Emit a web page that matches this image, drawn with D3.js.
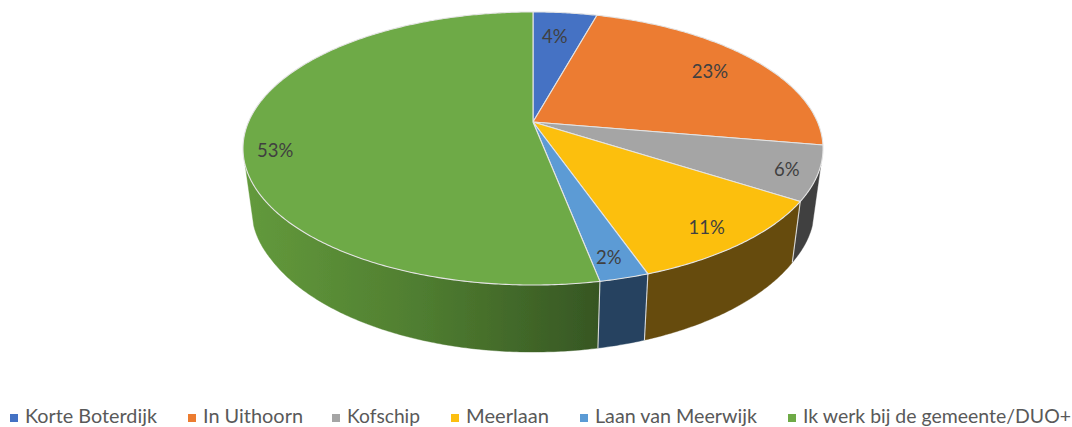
<!DOCTYPE html>
<html><head><meta charset="utf-8">
<script src="https://cdn.jsdelivr.net/npm/d3@7/dist/d3.min.js"></script>
<style>html,body{margin:0;padding:0;background:#fff;overflow:hidden}svg{display:block}</style>
</head><body><svg id="c" width="1072" height="427"></svg>
<script>
const categories=["Korte Boterdijk","In Uithoorn","Kofschip","Meerlaan","Laan van Meerwijk","Ik werk bij de gemeente/DUO+"];
const values=[4.3,23.4,6.4,10.55,2.3,53.05];
const colors=["#4472c4","#ec7c30","#a5a5a5","#fcbf11","#5b9bd5","#6eaa46"];
const sideColors=["#294679","#8e4b1e","#3f3f3f","#664c10","#254360","#4f7a32"];
const labelFactor=[.75,.79,.9,.873,.885,.894];
const labelTurn=[-1,0.7,1,1,0.6,-8];

const W=1072,H=427,cx=533,apexY=122,R=284.5,p=.194,a=131.4;
const svg=d3.select("#c");
const defs=svg.append("defs");
const gr=defs.append("linearGradient").attr("id","gGreen").attr("gradientUnits","userSpaceOnUse")
  .attr("x1",245).attr("x2",600).attr("y1",0).attr("y2",0);
gr.append("stop").attr("offset",0).attr("stop-color","#639a3c");
gr.append("stop").attr("offset",.5).attr("stop-color","#4f7d30");
gr.append("stop").attr("offset",1).attr("stop-color","#365623");
const f=defs.append("filter").attr("id","soft").attr("x","-2%").attr("y","-2%").attr("width","104%").attr("height","104%");
f.append("feGaussianBlur").attr("stdDeviation",.45);

// perspective projection of the unit disc, angle clockwise from the top
const topPt=(t,r=1)=>{const u=r*Math.sin(t),v=-r*Math.cos(t),w=1-p*v;return [cx+R*u/w,apexY+a*v/w];};
const botPt=(t)=>{const q=topPt(t),Y=q[1]-apexY;return [cx+(q[0]-cx)*.97,q[1]+Math.max(61,55.6+.07*Y)];};
const line=d3.line();
const pie=d3.pie().sort(null).value(d=>d)(values);
const arcSamples=(s,e)=>{const n=Math.max(2,Math.ceil((e-s)/.01));return d3.range(n+1).map(i=>s+(e-s)*i/n);};

const g=svg.append("g").attr("filter","url(#soft)");
// side wall: only the front part of the rim, between its two visible ends
const frontS=Math.PI*.6,frontE=Math.PI*1.4;
pie.forEach((d,i)=>{
  const s=Math.max(d.startAngle,frontS),e=Math.min(d.endAngle,frontE);
  if(e<=s)return;
  const ts=arcSamples(s,e);
  const pts=ts.map(t=>topPt(t)).concat(ts.slice().reverse().map(t=>botPt(t)));
  g.append("path").attr("d",line(pts)+"Z")
    .attr("fill",i===5?"url(#gGreen)":sideColors[i])
    .attr("stroke",i===5?"url(#gGreen)":sideColors[i]).attr("stroke-width",.4);
});
// separators on the wall, at the slice boundaries that face the viewer
pie.forEach(d=>{
  if(d.endAngle<=frontS||d.endAngle>=frontE)return;
  g.append("path").attr("d",line([topPt(d.endAngle),botPt(d.endAngle)]))
    .attr("stroke","#d9d9d9").attr("stroke-width",1.1).attr("fill","none");
});
// top faces
pie.forEach((d,i)=>{
  const ts=arcSamples(d.startAngle,d.endAngle);
  const pts=[[cx,apexY]].concat(ts.map(t=>topPt(t)));
  g.append("path").attr("d",line(pts)+"Z").attr("fill",colors[i])
    .attr("stroke","#e4e4e4").attr("stroke-width",1.1).attr("stroke-linejoin","round");
});
// data labels
pie.forEach((d,i)=>{
  const mid=(d.startAngle+d.endAngle)/2+labelTurn[i]*Math.PI/180;
  const q=topPt(mid,labelFactor[i]);
  svg.append("text").attr("x",q[0]).attr("y",q[1]+6.5).attr("text-anchor","middle")
    .attr("font-family","Lato, 'Open Sans', sans-serif").attr("font-size",18.5)
    .attr("fill","#404040").text(Math.round(d.value)+"%");
});
// legend
const legendX=d3.scaleOrdinal().domain(categories).range([10,188,332,451,580,788]);
const legendW=d3.scaleOrdinal().domain(categories).range([132,100,73,83,162,268]);
const lg=svg.selectAll("g.l").data(categories).join("g").attr("class","l")
  .attr("transform",d=>`translate(${legendX(d)},0)`);
lg.append("rect").attr("x",0).attr("y",414).attr("width",8).attr("height",8)
  .attr("fill",(d,i)=>colors[i]);
lg.append("text").attr("x",15).attr("y",423).text(d=>d)
  .attr("font-family","Lato, 'Open Sans', sans-serif").attr("font-size",19).attr("fill","#595959")
  .attr("textLength",d=>legendW(d)).attr("lengthAdjust","spacingAndGlyphs");
</script></body></html>
